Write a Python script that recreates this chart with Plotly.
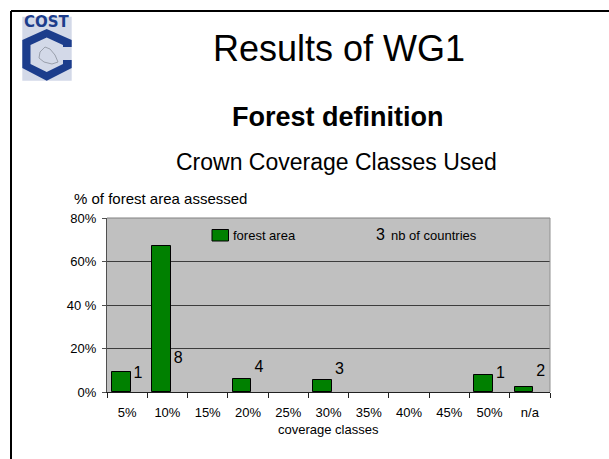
import plotly.graph_objects as go

# ---- data ----
categories = ["5%", "10%", "15%", "20%", "25%", "30%", "35%", "40%", "45%", "50%", "n/a"]
forest_area_pct = [9.4, 67.0, None, 6.2, None, 5.5, None, None, None, 8.0, 2.4]
nb_countries = [1, 8, None, 4, None, 3, None, None, None, 1, 2]
y_tick_vals = [0, 20, 40, 60, 80]
y_tick_text = ["0%", "20%", "40 %", "60%", "80%"]

W, H = 609, 459
L, R, T, B = 107, 59, 218, 67
FONT = "Liberation Sans, Arial, Helvetica, sans-serif"


def px(x):
    return (x - L) / (W - L - R)


def py(y):
    return 1 - (y - T) / (H - T - B)


idx = list(range(len(categories)))
boundaries = [i - 0.5 for i in range(len(categories) + 1)]

fig = go.Figure()
fig.add_trace(go.Bar(
    x=idx, y=forest_area_pct, width=0.46, offset=-0.375,
    marker=dict(color="#008000", line=dict(color="#000000", width=1)),
    name="forest area", showlegend=False, hoverinfo="skip",
))
fig.add_trace(go.Scatter(
    x=[i + 0.27 for i in idx], y=nb_countries, yaxis="y2", mode="text",
    text=["" if n is None else str(n) for n in nb_countries],
    textposition="middle center",
    textfont=dict(family=FONT, size=16, color="#000000"),
    showlegend=False, hoverinfo="skip", cliponaxis=False,
))

shapes = []
# plot-area top and right borders
shapes.append(dict(type="line", xref="paper", yref="paper", x0=0, x1=1, y0=1, y1=1,
                   line=dict(color="#808080", width=1), layer="above"))
shapes.append(dict(type="line", xref="paper", yref="paper", x0=1, x1=1, y0=0, y1=1,
                   line=dict(color="#909090", width=1), layer="above"))
# slide frame
shapes.append(dict(type="line", xref="paper", yref="paper", x0=px(11), x1=px(W + 5),
                   y0=py(11), y1=py(11), line=dict(color="#000000", width=2)))
shapes.append(dict(type="line", xref="paper", yref="paper", x0=px(11), x1=px(11),
                   y0=py(11), y1=py(H + 5), line=dict(color="#000000", width=2)))
# legend swatch
shapes.append(dict(type="rect", xref="paper", yref="paper", x0=px(212), x1=px(228.5),
                   y0=py(241), y1=py(229.5), fillcolor="#008000",
                   line=dict(color="#000000", width=1), layer="above"))

# COST logo (decoration)
shapes.append(dict(type="rect", xref="paper", yref="paper", x0=px(22.3), x1=px(71.7),
                   y0=py(80.7), y1=py(16.7), fillcolor="#D3D9E8", line=dict(width=0)))


def path(points):
    s = "M " + " L ".join(f"{px(x)},{py(y)}" for x, y in points) + " Z"
    return s


logo_pts = [(71.7, 47), (71.7, 40), (46.7, 29), (22.3, 40), (22.3, 68), (46.7, 80.7),
            (71.7, 68), (71.7, 60), (63, 60), (63, 64), (46.7, 72), (30.5, 64),
            (30.5, 45), (46.7, 37.5), (63, 45), (63, 47)]
shapes.append(dict(type="path", xref="paper", yref="paper", path=path(logo_pts),
                   fillcolor="#1C3D8C", line=dict(width=0)))
map_pts = [(40, 52), (45, 47), (50, 49), (55, 55), (58, 62), (52, 64), (44, 62), (39, 58)]
shapes.append(dict(type="path", xref="paper", yref="paper", path=path(map_pts),
                   fillcolor="#D3D9E8", line=dict(color="#9AA0AC", width=1)))

annotations = []


def ann(text, x, y, size, xanchor="center", bold=False, color="#000000", family=FONT):
    annotations.append(dict(
        text=f"<b>{text}</b>" if bold else text, x=px(x), y=py(y), xref="paper", yref="paper",
        xanchor=xanchor, yanchor="middle", showarrow=False,
        font=dict(family=family, size=size, color=color),
    ))


ann("COST", 47, 22, 15, bold=True, color="#1C3D8C", family="DejaVu Sans, Arial Black, sans-serif")
ann("Results of WG1", 339, 48.5, 36)
ann("Forest definition", 337.5, 117, 27, bold=True)
ann("Crown Coverage Classes Used", 336, 162.5, 23)
ann("% of forest area assessed", 71.7, 198, 15, xanchor="left")
ann("coverage classes", 328, 429, 13)
ann("forest area", 231, 235, 13, xanchor="left")
ann("3", 380, 234.5, 16)
ann("nb of countries", 389, 235, 13, xanchor="left")

fig.update_layout(
    width=W, height=H,
    margin=dict(l=L, r=R, t=T, b=B),
    paper_bgcolor="#FFFFFF", plot_bgcolor="#C0C0C0",
    font=dict(family=FONT, size=13, color="#000000"),
    bargap=0, showlegend=False,
    xaxis=dict(
        range=[-0.5, len(categories) - 0.5], tickmode="array", tickvals=idx, ticktext=categories,
        ticks="", showline=True, linecolor="#202020", linewidth=1, showgrid=False,
        zeroline=False, ticklabelstandoff=8, tickfont=dict(size=13),
        minor=dict(tickmode="array", tickvals=boundaries, ticks="outside", ticklen=5,
                   tickcolor="#202020", tickwidth=1, showgrid=False),
        fixedrange=True,
    ),
    yaxis=dict(
        range=[0, 80], tickmode="array", tickvals=y_tick_vals, ticktext=y_tick_text,
        ticks="outside", ticklen=4, tickcolor="#505050", showline=True, linecolor="#505050",
        linewidth=1, showgrid=True, gridcolor="#3C3C3C", gridwidth=1, zeroline=False,
        ticklabelstandoff=3, tickfont=dict(size=13), fixedrange=True,
    ),
    yaxis2=dict(overlaying="y", range=[-7.3, 73.8], visible=False, fixedrange=True),
    shapes=shapes, annotations=annotations,
)

fig.write_html(
    "out.html",
    config={"displayModeBar": False},
    post_script="document.body.style.margin='0';document.body.style.overflow='hidden';",
)
